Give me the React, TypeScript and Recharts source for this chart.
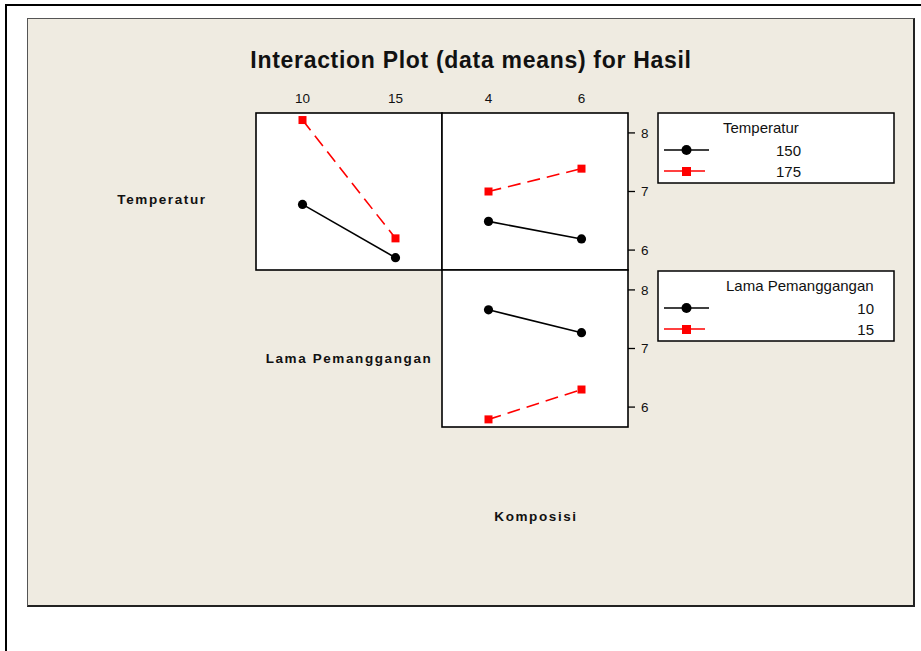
import { LineChart, Line, XAxis, YAxis } from "recharts"

// factor levels
const lamaLevels = [10, 15]
const komposisiLevels = [4, 6]
const hasilTicks = [6, 7, 8]
const hasilRange = [5.66, 8.34]
const lamaRange = [7.5, 17.5]
const komposisiRange = [3, 7]

// means of Hasil
const temp150ByLama = [6.78, 5.87]
const temp175ByLama = [8.22, 6.2]
const temp150ByKomposisi = [6.49, 6.19]
const temp175ByKomposisi = [7.0, 7.39]
const lama10ByKomposisi = [7.66, 7.27]
const lama15ByKomposisi = [5.79, 6.3]

const FONT = "'Liberation Sans', Arial, sans-serif"
const BEIGE = "#EFEBE1"
const RED = "#FF0000"

const toRows = (levels: number[], first: number[], second: number[]) =>
    levels.map((x, i) => ({ x, first: first[i], second: second[i] }))

const CircleDot = (p: any) => {
    if (p.cx == null || p.cy == null) return null
    return <circle cx={p.cx} cy={p.cy} r={4.6} fill="#000" />
}

const SquareDot = (p: any) => {
    if (p.cx == null || p.cy == null) return null
    return <rect x={p.cx - 4} y={p.cy - 4} width={8} height={8} fill={RED} />
}

const PW = 186
const PH = 157

interface PanelProps {
    left: number
    top: number
    data: { x: number; first: number; second: number }[]
    domain: number[]
    ticks: number[]
    showTop: boolean
    showRight: boolean
}

const Panel = ({ left, top, data, domain, ticks, showTop, showRight }: PanelProps) => {
    const axisH = showTop ? 30 : 0
    const axisW = showRight ? 40 : 0
    return (
        <div style={{ position: "absolute", left, top: top - axisH }}>
            <LineChart
                width={PW + axisW}
                height={PH + axisH}
                data={data}
                margin={{ top: 0, right: 0, bottom: 0, left: 0 }}
            >
                <XAxis
                    type="number"
                    dataKey="x"
                    domain={domain}
                    ticks={ticks}
                    orientation="top"
                    height={axisH}
                    hide={!showTop}
                    axisLine={false}
                    tickLine={false}
                    tickSize={6}
                    tickMargin={4}
                    tick={{ fontSize: 13.5, fill: "#111", fontFamily: FONT }}
                />
                <YAxis
                    type="number"
                    domain={hasilRange}
                    ticks={hasilTicks}
                    orientation="right"
                    width={axisW}
                    hide={!showRight}
                    axisLine={false}
                    tickLine={{ stroke: "#000", strokeWidth: 1.3 }}
                    tickSize={7}
                    tickMargin={6}
                    tick={{ fontSize: 13.5, fill: "#111", fontFamily: FONT }}
                />
                <Line
                    dataKey="first"
                    stroke="#000"
                    strokeWidth={1.6}
                    dot={(p: any) => <CircleDot key={p.index} {...p} />}
                    activeDot={false}
                    isAnimationActive={false}
                />
                <Line
                    dataKey="second"
                    stroke={RED}
                    strokeWidth={1.6}
                    strokeDasharray="13 7"
                    dot={(p: any) => <SquareDot key={p.index} {...p} />}
                    activeDot={false}
                    isAnimationActive={false}
                />
            </LineChart>
        </div>
    )
}

const LegendBox = ({ y, title, labels, textLeft, textRight }: { y: number; title: string; labels: number[]; textLeft: number; textRight: number }) => (
    <g>
        <rect x={658} y={y} width={236} height={70} fill="#fff" stroke="#000" strokeWidth={1.5} />
        <text x={textLeft} y={y + 20} fontSize={15} fontFamily={FONT} fill="#111">
            {title}
        </text>
        <line x1={664} x2={709} y1={y + 37} y2={y + 37} stroke="#000" strokeWidth={1.6} />
        <circle cx={686.5} cy={y + 37} r={5} fill="#000" />
        <line x1={664} x2={705} y1={y + 58} y2={y + 58} stroke={RED} strokeWidth={1.6} />
        <rect x={682} y={y + 54} width={9} height={9} fill={RED} />
        <text x={textRight} y={y + 43} textAnchor="end" fontSize={15} fontFamily={FONT} fill="#111">
            {labels[0]}
        </text>
        <text x={textRight} y={y + 64} textAnchor="end" fontSize={15} fontFamily={FONT} fill="#111">
            {labels[1]}
        </text>
    </g>
)

const labelStyle = { fontSize: 13.5, fontWeight: 700, fontFamily: FONT, letterSpacing: 1.6, fill: "#111" }

export default function App() {
    return (
        <div
            style={{
                position: "absolute",
                left: 0,
                top: 0,
                width: 921,
                height: 651,
                overflow: "hidden",
                background: "#fff",
                fontFamily: FONT,
            }}
        >
            <div
                style={{
                    position: "absolute",
                    left: 5,
                    top: 4,
                    width: 1000,
                    height: 1000,
                    borderTop: "2px solid #000",
                    borderLeft: "2px solid #000",
                }}
            />
            <div
                style={{
                    position: "absolute",
                    left: 27,
                    top: 18,
                    width: 885,
                    height: 586,
                    background: BEIGE,
                    borderTop: "1px solid #555",
                    borderLeft: "1px solid #555",
                    borderRight: "2px solid #222",
                    borderBottom: "2px solid #222",
                }}
            />
            <svg width={921} height={651} style={{ position: "absolute", left: 0, top: 0 }}>
                <rect x={256} y={113} width={PW} height={PH} fill="#fff" stroke="#000" strokeWidth={1.6} />
                <rect x={442} y={113} width={PW} height={PH} fill="#fff" stroke="#000" strokeWidth={1.6} />
                <rect x={442} y={270} width={PW} height={PH} fill="#fff" stroke="#000" strokeWidth={1.6} />
                <text
                    x={471}
                    y={68}
                    textAnchor="middle"
                    fontSize={23}
                    fontWeight={700}
                    fontFamily={FONT}
                    letterSpacing={0.7}
                    fill="#111"
                >
                    Interaction Plot (data means) for Hasil
                </text>
                <text x={162} y={204} textAnchor="middle" {...labelStyle}>
                    Temperatur
                </text>
                <text x={349} y={363} textAnchor="middle" {...labelStyle}>
                    Lama Pemanggangan
                </text>
                <text x={536} y={521} textAnchor="middle" {...labelStyle}>
                    Komposisi
                </text>
                <LegendBox y={113} title="Temperatur" labels={[150, 175]} textLeft={723} textRight={801} />
                <LegendBox y={271} title="Lama Pemanggangan" labels={[10, 15]} textLeft={726} textRight={874} />
            </svg>
            <Panel
                left={256}
                top={113}
                data={toRows(lamaLevels, temp150ByLama, temp175ByLama)}
                domain={lamaRange}
                ticks={lamaLevels}
                showTop
                showRight={false}
            />
            <Panel
                left={442}
                top={113}
                data={toRows(komposisiLevels, temp150ByKomposisi, temp175ByKomposisi)}
                domain={komposisiRange}
                ticks={komposisiLevels}
                showTop
                showRight
            />
            <Panel
                left={442}
                top={270}
                data={toRows(komposisiLevels, lama10ByKomposisi, lama15ByKomposisi)}
                domain={komposisiRange}
                ticks={komposisiLevels}
                showTop={false}
                showRight
            />
        </div>
    )
}
